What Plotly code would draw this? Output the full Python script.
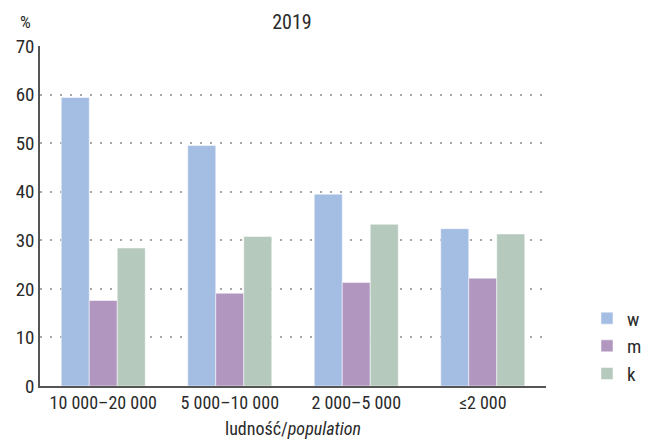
import plotly.graph_objects as go

categories = ["10 000–20 000", "5 000–10 000", "2 000–5 000", "≤2 000"]
series_names = ["w", "m", "k"]
w_values = [59.4, 49.5, 39.5, 32.4]
m_values = [17.6, 19.1, 21.3, 22.2]
k_values = [28.4, 30.8, 33.3, 31.3]
colors = ["#a4bde3", "#b197c0", "#b5c9bd"]
y_ticks = [0, 10, 20, 30, 40, 50, 60, 70]

font = "Liberation Sans Narrow, Roboto Condensed, Roboto"
fig = go.Figure()
for name, vals, col in zip(series_names, [w_values, m_values, k_values], colors):
    fig.add_trace(go.Bar(x=categories, y=vals, name=name, marker_color=col,
                         marker_line_color="#ffffff", marker_line_width=0.5))

fig.update_layout(
    width=641, height=431,
    margin=dict(l=32, r=103, t=38, b=53, autoexpand=False),
    plot_bgcolor="white", paper_bgcolor="white",
    barmode="group", bargap=0.336, bargroupgap=0,
    font=dict(family=font, size=18, color="#2a2a2a"),
    title=dict(text="2019", x=0.498, xref="paper", xanchor="center", y=0.968, yanchor="middle",
               font=dict(size=20, family=font, color="#2a2a2a")),
    legend=dict(x=1.081, y=0.255, xanchor="left", yanchor="top",
                font=dict(size=19, family=font), traceorder="normal",
                itemwidth=30, tracegroupgap=0),
    xaxis=dict(showline=True, linecolor="#555555", linewidth=1.5,
               tickfont=dict(size=18), ticks="", showgrid=False,
               title=dict(text="ludność/<i>population</i>", font=dict(size=18), standoff=11)),
    yaxis=dict(range=[0, 70], tickvals=y_ticks, showline=True, linecolor="#555555",
               linewidth=1.5, showgrid=True, gridcolor="#a8a8a8", griddash="2px,8px",
               gridwidth=1.5, ticks="", tickfont=dict(size=19), zeroline=False),
)
fig.add_annotation(text="%", xref="paper", yref="paper", x=-0.0296, y=1.07,
                   xanchor="center", yanchor="middle", showarrow=False,
                   font=dict(size=17, family=font, color="#2a2a2a"))
fig.write_html("out.html")
